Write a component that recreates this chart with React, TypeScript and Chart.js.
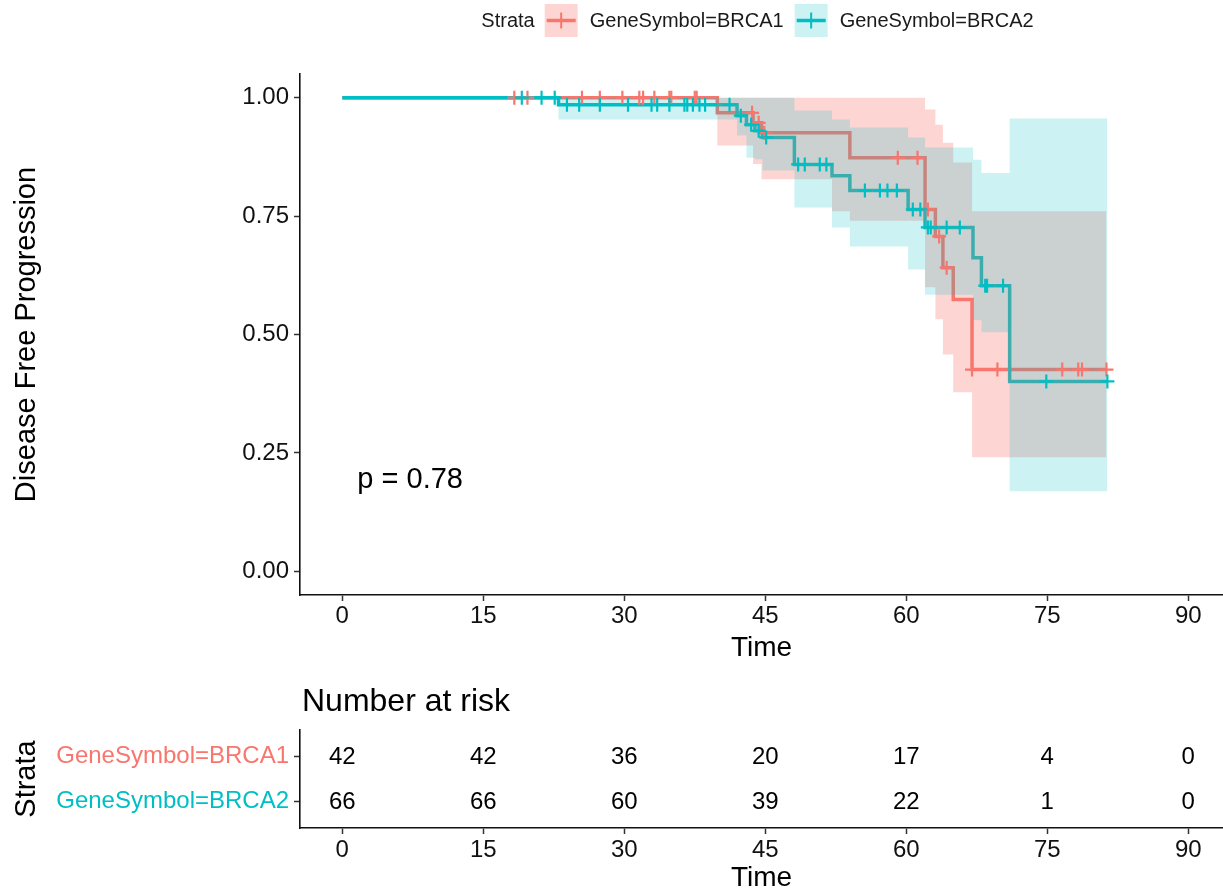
import React, { useEffect, useRef } from 'react';
import { Chart, registerables } from 'chart.js';

Chart.register(...registerables);

const FONT = '"Liberation Sans", Arial, Helvetica, sans-serif';
const RED = '#F8766D';
const TEAL = '#00BFC4';
const RED_BAND = 'rgba(248,118,109,0.3)';
const TEAL_BAND = 'rgba(0,191,196,0.2)';

// ---- axis ticks ----
const timeBreaks = [0, 15, 30, 45, 60, 75, 90];
const survTicks = [0, 0.25, 0.5, 0.75, 1];
const strataLabels = ['GeneSymbol=BRCA1', 'GeneSymbol=BRCA2'];
const legendTitle = 'Strata';
const pValueText = 'p = 0.78';
const pValueAt = [1.6, 0.192];

// ---- BRCA1 survival curve ----
const brca1Time = [0, 39.9, 43.7, 44.6, 54.0, 62.0, 63.1, 63.9, 65.0, 67.0, 81.3];
const brca1Surv = [1, 0.968, 0.947, 0.926, 0.873, 0.764, 0.707, 0.641, 0.574, 0.426, 0.426];
// BRCA1 confidence band
const brca1BandTime = [0, 39.9, 43.7, 44.6, 52.1, 54.0, 62.0, 63.1, 63.9, 65.0, 67.0, 81.3];
const brca1Upper = [1, 1, 1, 1, 1, 1, 0.975, 0.943, 0.905, 0.863, 0.76, 0.76];
const brca1Lower = [1, 0.899, 0.86, 0.828, 0.76, 0.74, 0.6, 0.532, 0.458, 0.378, 0.241, 0.241];
// BRCA1 censored
const brca1CensorTime = [18.3, 19.7, 25.5, 27.4, 29.8, 31.6, 32.0, 33.2, 34.8, 35.0, 37.5, 37.7, 43.6, 44.3, 44.9, 59.1, 61.2, 62.3, 63.5, 64.3, 67.0, 69.7, 76.6, 78.3, 78.7, 81.3];
const brca1CensorSurv = [1, 1, 1, 1, 1, 1, 1, 1, 1, 1, 1, 1, 0.968, 0.947, 0.926, 0.873, 0.873, 0.764, 0.707, 0.641, 0.426, 0.426, 0.426, 0.426, 0.426, 0.426];

// ---- BRCA2 survival curve ----
const brca2Time = [0, 23.0, 42.0, 43.0, 43.9, 44.7, 48.1, 52.1, 54.0, 60.2, 62.0, 67.1, 68.0, 71.0, 81.4];
const brca2Surv = [1, 0.985, 0.962, 0.943, 0.93, 0.916, 0.859, 0.835, 0.804, 0.764, 0.726, 0.662, 0.603, 0.401, 0.401];
// BRCA2 confidence band
const brca2BandTime = [0, 23.0, 42.0, 43.0, 43.9, 44.7, 48.1, 52.1, 54.0, 60.2, 62.0, 67.1, 68.0, 71.0, 81.4];
const brca2Upper = [1, 1, 1, 1, 1, 1, 0.973, 0.954, 0.937, 0.916, 0.895, 0.869, 0.841, 0.956, 0.956];
const brca2Lower = [1, 0.954, 0.92, 0.873, 0.87, 0.846, 0.768, 0.726, 0.686, 0.637, 0.584, 0.53, 0.505, 0.169, 0.169];
// BRCA2 censored
const brca2CensorTime = [19.1, 21.2, 22.6, 23.9, 25.2, 27.4, 30.4, 32.9, 33.5, 34.8, 36.4, 36.7, 37.3, 38.0, 38.6, 41.2, 42.4, 43.5, 44.3, 45.1, 48.5, 49.2, 50.8, 51.5, 55.6, 57.2, 58.0, 59.0, 60.7, 61.5, 62.3, 62.6, 64.3, 65.7, 68.4, 68.6, 70.3, 74.9, 81.4];
const brca2CensorSurv = [1, 1, 1, 0.985, 0.985, 0.985, 0.985, 0.985, 0.985, 0.985, 0.985, 0.985, 0.985, 0.985, 0.985, 0.985, 0.962, 0.943, 0.93, 0.916, 0.859, 0.859, 0.859, 0.859, 0.804, 0.804, 0.804, 0.804, 0.764, 0.764, 0.726, 0.726, 0.726, 0.726, 0.603, 0.603, 0.603, 0.401, 0.401];

// ---- number at risk ----
const riskTimes = [0, 15, 30, 45, 60, 75, 90];
const brca1Risk = [42, 42, 36, 20, 17, 4, 0];
const brca2Risk = [66, 66, 60, 39, 22, 1, 0];

const pts = (t: number[], s: number[]) => t.map((x, i) => ({ x, y: s[i] }));

const legendPlugin = {
  id: 'kmLegend',
  afterDraw(chart: any) {
    const ctx = chart.ctx;
    const items = [
      { label: strataLabels[0], color: RED, fill: RED_BAND },
      { label: strataLabels[1], color: TEAL, fill: TEAL_BAND },
    ];
    ctx.save();
    ctx.font = `20px ${FONT}`;
    ctx.textBaseline = 'middle';
    const box = 33, gTitle = 10, gText = 12, gItem = 11;
    const titleW = ctx.measureText(legendTitle).width;
    let total = titleW + gTitle;
    items.forEach((it, i) => {
      total += box + gText + ctx.measureText(it.label).width + (i < items.length - 1 ? gItem : 0);
    });
    const ca = chart.chartArea;
    let x = (ca.left + ca.right) / 2 - 4 - total / 2;
    const cy = 20.5;
    ctx.fillStyle = '#1a1a1a';
    ctx.textAlign = 'left';
    ctx.fillText(legendTitle, x, cy + 1);
    x += titleW + gTitle;
    items.forEach((it) => {
      ctx.fillStyle = it.fill;
      ctx.fillRect(x, cy - box / 2, box, box);
      ctx.strokeStyle = it.color;
      ctx.lineWidth = 3.5;
      ctx.beginPath();
      ctx.moveTo(x + 2, cy);
      ctx.lineTo(x + box - 2, cy);
      ctx.stroke();
      ctx.lineWidth = 2;
      ctx.beginPath();
      ctx.moveTo(x + box / 2, cy - 8);
      ctx.lineTo(x + box / 2, cy + 8);
      ctx.stroke();
      x += box + gText;
      ctx.fillStyle = '#1a1a1a';
      ctx.fillText(it.label, x, cy + 1);
      x += ctx.measureText(it.label).width + gItem;
    });
    ctx.restore();
  },
};

const pValuePlugin = {
  id: 'pValue',
  afterDatasetsDraw(chart: any) {
    const ctx = chart.ctx;
    const px = chart.scales.x.getPixelForValue(pValueAt[0]);
    const py = chart.scales.y.getPixelForValue(pValueAt[1]);
    ctx.save();
    ctx.font = `29px ${FONT}`;
    ctx.fillStyle = '#000';
    ctx.textAlign = 'left';
    ctx.textBaseline = 'middle';
    ctx.fillText(pValueText, px, py);
    ctx.restore();
  },
};

const riskTextPlugin = {
  id: 'riskText',
  afterDatasetsDraw(chart: any) {
    const ctx = chart.ctx;
    ctx.save();
    ctx.font = `24px ${FONT}`;
    ctx.fillStyle = '#000';
    ctx.textAlign = 'center';
    ctx.textBaseline = 'middle';
    chart.data.datasets.forEach((ds: any, di: number) => {
      const meta = chart.getDatasetMeta(di);
      meta.data.forEach((el: any, i: number) => {
        ctx.fillText(String(ds.data[i].n), el.x, el.y + 1);
      });
    });
    ctx.textAlign = 'left';
    ctx.font = `32px ${FONT}`;
    ctx.fillText('Number at risk', chart.chartArea.left + 2, 22);
    ctx.restore();
  },
};

const axisCommon = {
  grid: { display: true, drawOnChartArea: false, drawTicks: true, tickLength: 6, tickColor: '#333', tickWidth: 1.5 },
  border: { display: true, color: '#111', width: 1.6 },
};

export default function App() {
  const mainRef = useRef<HTMLCanvasElement>(null);
  const riskRef = useRef<HTMLCanvasElement>(null);

  useEffect(() => {
    const stepLine = (data: any[], color: string, order: number) => ({
      data,
      borderColor: color,
      borderWidth: 3.5,
      stepped: 'before',
      pointRadius: 0,
      fill: false,
      order,
    });
    const bandEdge = (data: any[], order: number, fill: any, bg: string) => ({
      data,
      borderColor: 'rgba(0,0,0,0)',
      borderWidth: 1,
      stepped: 'before',
      pointRadius: 0,
      fill,
      backgroundColor: bg,
      order,
    });
    const censor = (data: any[], color: string, order: number) => ({
      data,
      showLine: false,
      pointStyle: 'cross',
      pointRadius: 7,
      pointBorderWidth: 2.2,
      borderColor: color,
      pointBorderColor: color,
      backgroundColor: color,
      order,
    });

    const main = new Chart(mainRef.current!, {
      type: 'line',
      data: {
        datasets: [
          stepLine(pts(brca1Time, brca1Surv), RED, 10) as any,
          stepLine(pts(brca2Time, brca2Surv), TEAL, 9) as any,
          bandEdge(pts(brca1BandTime, brca1Lower), 8, false, RED_BAND) as any,
          bandEdge(pts(brca1BandTime, brca1Upper), 7, 2, RED_BAND) as any,
          bandEdge(pts(brca2BandTime, brca2Lower), 6, false, TEAL_BAND) as any,
          bandEdge(pts(brca2BandTime, brca2Upper), 5, 4, TEAL_BAND) as any,
          censor(pts(brca1CensorTime, brca1CensorSurv), RED, 2) as any,
          censor(pts(brca2CensorTime, brca2CensorSurv), TEAL, 1) as any,
        ],
      },
      options: {
        animation: false,
        responsive: false,
        events: [],
        layout: { autoPadding: false, padding: { top: 74, left: 0, right: 0, bottom: 0 } },
        plugins: {
          legend: { display: false },
          tooltip: { enabled: false },
          filler: { propagate: false },
        },
        scales: {
          x: {
            type: 'linear',
            min: -4.5,
            max: 93.7,
            afterBuildTicks: (s: any) => { s.ticks = timeBreaks.map((v) => ({ value: v })); },
            afterFit: (s: any) => { s.height = 75; },
            ticks: { font: { family: FONT, size: 24 }, color: '#111', padding: 1, maxRotation: 0, autoSkip: false },
            title: { display: true, text: 'Time', font: { family: FONT, size: 28 }, color: '#000', padding: { top: 0, bottom: 5 } },
            ...axisCommon,
          } as any,
          y: {
            type: 'linear',
            min: -0.05,
            max: 1.05,
            afterBuildTicks: (s: any) => { s.ticks = survTicks.map((v) => ({ value: v })); },
            afterFit: (s: any) => { s.width = 300; },
            ticks: {
              font: { family: FONT, size: 24 },
              color: '#111',
              padding: 5,
              callback: (v: any) => Number(v).toFixed(2),
            },
            title: { display: true, text: 'Disease Free Progression', font: { family: FONT, size: 29 }, color: '#000', padding: { top: 10, bottom: 0 } },
            ...axisCommon,
          } as any,
        },
      },
      plugins: [legendPlugin, pValuePlugin],
    });

    const riskPts = (counts: number[], row: number) => riskTimes.map((t, i) => ({ x: t, y: row, n: counts[i] }));

    const risk = new Chart(riskRef.current!, {
      type: 'line',
      data: {
        datasets: [
          { data: riskPts(brca1Risk, 1), showLine: false, pointRadius: 0 } as any,
          { data: riskPts(brca2Risk, 2), showLine: false, pointRadius: 0 } as any,
        ],
      },
      options: {
        animation: false,
        responsive: false,
        events: [],
        layout: { autoPadding: false, padding: { top: 50, left: 0, right: 0, bottom: 0 } },
        plugins: { legend: { display: false }, tooltip: { enabled: false } },
        scales: {
          x: {
            type: 'linear',
            min: -4.5,
            max: 93.7,
            afterBuildTicks: (s: any) => { s.ticks = timeBreaks.map((v) => ({ value: v })); },
            afterFit: (s: any) => { s.height = 67; },
            ticks: { font: { family: FONT, size: 24 }, color: '#111', padding: 2, maxRotation: 0, autoSkip: false },
            title: { display: true, text: 'Time', font: { family: FONT, size: 28 }, color: '#000', padding: { top: 0, bottom: 0 } },
            ...axisCommon,
          } as any,
          y: {
            type: 'linear',
            min: 0.4,
            max: 2.6,
            reverse: true,
            afterBuildTicks: (s: any) => { s.ticks = [1, 2].map((v) => ({ value: v })); },
            afterFit: (s: any) => { s.width = 300; },
            ticks: {
              font: { family: FONT, size: 24 },
              color: (c: any) => (c.tick && c.tick.value === 1 ? RED : TEAL),
              padding: 5,
              callback: (v: any) => strataLabels[Number(v) - 1],
            },
            title: { display: true, text: 'Strata', font: { family: FONT, size: 29 }, color: '#000', padding: { top: 10, bottom: 0 } },
            ...axisCommon,
          } as any,
        },
      },
      plugins: [riskTextPlugin],
    });

    return () => {
      main.destroy();
      risk.destroy();
    };
  }, []);

  return (
    <div style={{ position: 'absolute', left: 0, top: 0, width: 1223, height: 895, background: '#fff' }}>
      <canvas ref={mainRef} width={1223} height={670} style={{ position: 'absolute', left: 0, top: 0 }} />
      <canvas ref={riskRef} width={1223} height={215} style={{ position: 'absolute', left: 0, top: 680 }} />
    </div>
  );
}
